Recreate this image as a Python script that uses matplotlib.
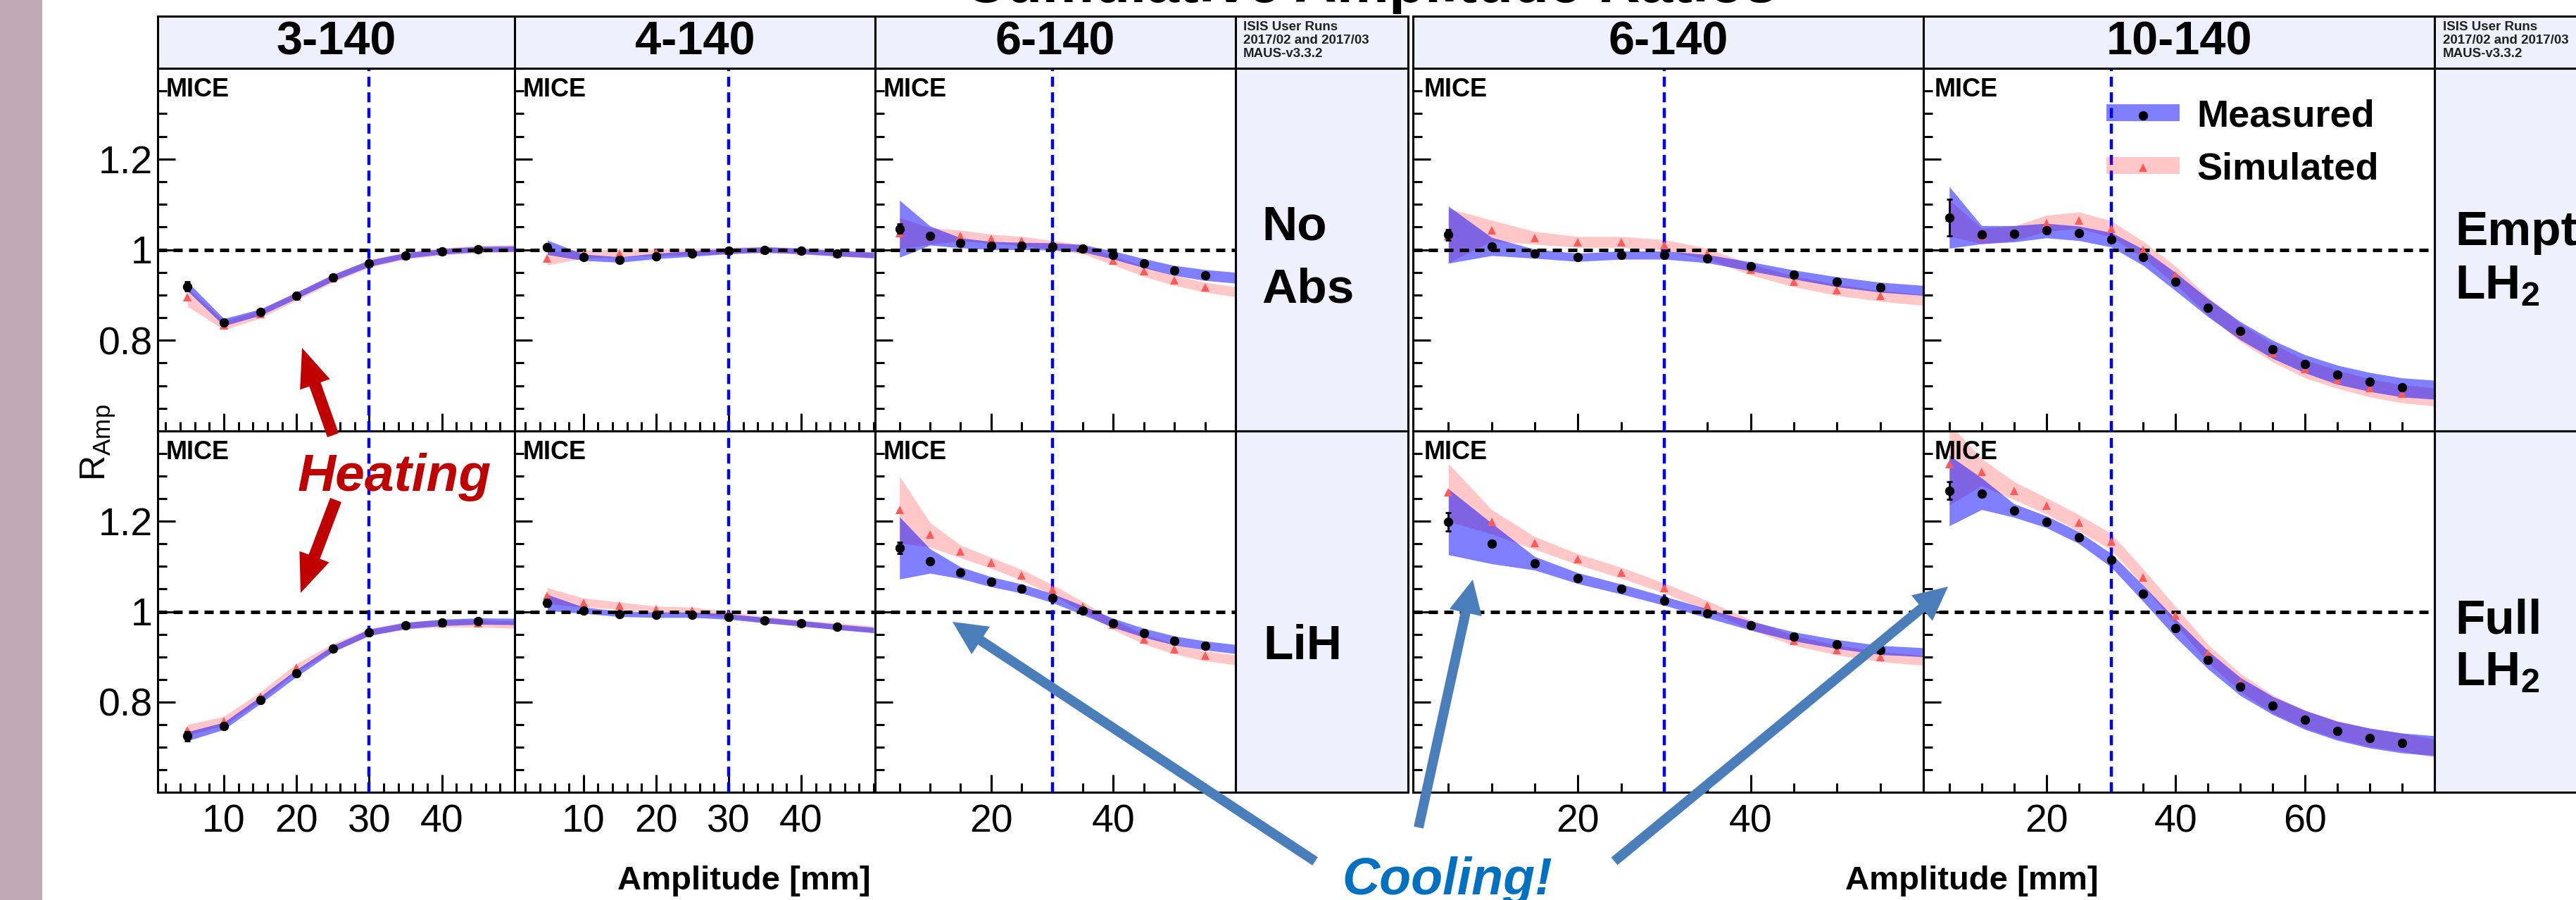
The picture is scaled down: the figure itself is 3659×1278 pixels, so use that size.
import numpy as np
import matplotlib
matplotlib.use('Agg')
import matplotlib.pyplot as plt
import matplotlib.patches as mpatches
from matplotlib.lines import Line2D
from matplotlib.legend_handler import HandlerTuple
from matplotlib.ticker import MultipleLocator, FixedLocator
from matplotlib.transforms import Affine2D

plt.rcParams['font.family'] = ['Liberation Sans', 'DejaVu Sans']
plt.rcParams['mathtext.fontset'] = 'custom'
plt.rcParams['mathtext.rm'] = 'Liberation Sans'
plt.rcParams['mathtext.bf'] = 'Liberation Sans:bold'
plt.rcParams['mathtext.it'] = 'Liberation Sans:italic'

# amplitude bins [mm]; the last band value of each series is the band at the axis end
amp_small = [5, 10, 15, 20, 25, 30, 35, 40, 45]
amp_mid = [5, 10, 15, 20, 25, 30, 35, 40, 45, 50, 55]
amp_large = [5, 10, 15, 20, 25, 30, 35, 40, 45, 50, 55, 60, 65, 70, 75]
end_small, end_mid, end_large = 50, 60, 80

# labelled x ticks
ticks_small = [10, 20, 30, 40]
ticks_mid = [20, 40]
ticks_large = [20, 40, 60]
yticks = [0.8, 1.0, 1.2]
ytick_labels = ['0.8', '1', '1.2']

# 3-140, No Abs
meas_3_noabs = [0.919, 0.840, 0.862, 0.899, 0.938, 0.970, 0.987, 0.996, 1.001, 1.002]
meas_3_noabs_w = [0.010, 0.008, 0.007, 0.007, 0.007, 0.007, 0.006, 0.006, 0.006, 0.006]
sim_3_noabs = [0.895, 0.833, 0.858, 0.897, 0.937, 0.969, 0.987, 0.996, 1.001, 1.003]
sim_3_noabs_w = [0.020, 0.010, 0.009, 0.009, 0.009, 0.008, 0.008, 0.008, 0.008, 0.008]
# 4-140, No Abs
meas_4_noabs = [1.005, 0.983, 0.978, 0.986, 0.991, 0.997, 1.000, 0.997, 0.992, 0.988]
meas_4_noabs_w = [0.016, 0.007, 0.006, 0.006, 0.006, 0.006, 0.006, 0.006, 0.006, 0.006]
sim_4_noabs = [0.981, 0.990, 0.992, 0.994, 0.995, 0.998, 1.000, 0.997, 0.992, 0.988]
sim_4_noabs_w = [0.015, 0.009, 0.008, 0.007, 0.007, 0.007, 0.007, 0.007, 0.007, 0.007]
# 6-140, No Abs
meas_6_noabs = [1.046, 1.031, 1.015, 1.009, 1.008, 1.007, 1.003, 0.988, 0.970, 0.954, 0.944, 0.938]
meas_6_noabs_w = [0.063, 0.021, 0.011, 0.009, 0.008, 0.008, 0.008, 0.009, 0.010, 0.011, 0.012, 0.012]
sim_6_noabs = [1.036, 1.030, 1.031, 1.024, 1.019, 1.010, 1.001, 0.976, 0.952, 0.932, 0.917, 0.907]
sim_6_noabs_w = [0.035, 0.018, 0.012, 0.010, 0.010, 0.010, 0.010, 0.010, 0.011, 0.011, 0.011, 0.011]
# 3-140, LiH
meas_3_lih = [0.724, 0.747, 0.804, 0.864, 0.918, 0.954, 0.969, 0.976, 0.979, 0.978]
meas_3_lih_w = [0.010, 0.008, 0.008, 0.008, 0.007, 0.007, 0.007, 0.007, 0.007, 0.007]
sim_3_lih = [0.738, 0.758, 0.812, 0.876, 0.920, 0.955, 0.969, 0.974, 0.974, 0.971]
sim_3_lih_w = [0.012, 0.010, 0.010, 0.009, 0.009, 0.008, 0.008, 0.008, 0.008, 0.008]
# 4-140, LiH
meas_4_lih = [1.020, 1.003, 0.995, 0.993, 0.993, 0.989, 0.981, 0.974, 0.966, 0.959]
meas_4_lih_w = [0.018, 0.007, 0.006, 0.006, 0.006, 0.006, 0.006, 0.006, 0.006, 0.006]
sim_4_lih = [1.035, 1.020, 1.013, 1.005, 1.003, 0.993, 0.982, 0.974, 0.968, 0.961]
sim_4_lih_w = [0.018, 0.010, 0.008, 0.007, 0.007, 0.007, 0.007, 0.007, 0.007, 0.007]
# 6-140, LiH
meas_6_lih = [1.141, 1.112, 1.086, 1.066, 1.051, 1.030, 1.003, 0.975, 0.953, 0.936, 0.925, 0.917]
meas_6_lih_w = [0.069, 0.027, 0.013, 0.011, 0.010, 0.010, 0.010, 0.010, 0.010, 0.010, 0.010, 0.010]
sim_6_lih = [1.226, 1.170, 1.133, 1.108, 1.081, 1.049, 1.011, 0.971, 0.939, 0.917, 0.902, 0.893]
sim_6_lih_w = [0.074, 0.027, 0.014, 0.012, 0.012, 0.011, 0.011, 0.011, 0.011, 0.011, 0.011, 0.011]
# 6-140, Empty LH2
meas_6_empty = [1.033, 1.007, 0.991, 0.983, 0.988, 0.988, 0.980, 0.963, 0.945, 0.929, 0.917, 0.910]
meas_6_empty_w = [0.063, 0.020, 0.010, 0.009, 0.009, 0.009, 0.009, 0.010, 0.010, 0.011, 0.011, 0.011]
sim_6_empty = [1.031, 1.042, 1.026, 1.017, 1.017, 1.010, 0.991, 0.956, 0.930, 0.911, 0.898, 0.889]
sim_6_empty_w = [0.060, 0.023, 0.014, 0.012, 0.012, 0.012, 0.012, 0.012, 0.012, 0.012, 0.012, 0.012]
# 10-140, Empty LH2
meas_10_empty = [1.071, 1.033, 1.035, 1.042, 1.036, 1.022, 0.983, 0.929, 0.872, 0.821, 0.780, 0.748,
                 0.724, 0.708, 0.696, 0.691]
meas_10_empty_w = [0.068, 0.020, 0.018, 0.016, 0.016, 0.016, 0.018, 0.020, 0.020, 0.020, 0.020, 0.020,
                   0.021, 0.021, 0.021, 0.021]
sim_10_empty = [1.070, 1.030, 1.036, 1.058, 1.065, 1.046, 1.000, 0.943, 0.875, 0.817, 0.772, 0.737,
                0.714, 0.695, 0.682, 0.675]
sim_10_empty_w = [0.040, 0.017, 0.016, 0.018, 0.018, 0.018, 0.018, 0.020, 0.020, 0.020, 0.020, 0.020,
                  0.020, 0.020, 0.020, 0.020]
# 6-140, Full LH2
meas_6_full = [1.199, 1.151, 1.107, 1.074, 1.050, 1.024, 0.996, 0.969, 0.945, 0.928, 0.915, 0.910]
meas_6_full_w = [0.073, 0.045, 0.015, 0.012, 0.011, 0.010, 0.010, 0.010, 0.010, 0.010, 0.010, 0.010]
sim_6_full = [1.264, 1.199, 1.152, 1.116, 1.086, 1.052, 1.013, 0.971, 0.936, 0.915, 0.900, 0.892]
sim_6_full_w = [0.064, 0.027, 0.014, 0.012, 0.012, 0.011, 0.011, 0.011, 0.011, 0.011, 0.011, 0.011]
# 10-140, Full LH2
meas_10_full = [1.268, 1.261, 1.224, 1.199, 1.164, 1.114, 1.040, 0.963, 0.893, 0.834, 0.792, 0.760,
                0.736, 0.720, 0.709, 0.703]
meas_10_full_w = [0.078, 0.035, 0.015, 0.013, 0.013, 0.015, 0.018, 0.020, 0.020, 0.020, 0.020, 0.021,
                  0.021, 0.022, 0.022, 0.022]
sim_10_full = [1.326, 1.309, 1.268, 1.234, 1.197, 1.155, 1.076, 0.991, 0.907, 0.843, 0.795, 0.762,
               0.738, 0.721, 0.711, 0.697]
sim_10_full_w = [0.090, 0.030, 0.020, 0.018, 0.018, 0.018, 0.018, 0.020, 0.020, 0.020, 0.020, 0.020,
                 0.020, 0.020, 0.020, 0.020]

# error on the first measured point of each panel
first_err = [0.010, 0.005, 0.010, 0.010, 0.008, 0.013, 0.012, 0.040, 0.020, 0.020]

W, H = 3659, 1278
fig = plt.figure(figsize=(W / 100, H / 100), dpi=100)
pix = Affine2D().scale(1.0 / W, -1.0 / H).translate(0, 1) + fig.transFigure

LAV = '#f0f0fc'
BLUE_BAND = (0, 0, 1, 0.5)
PINK_BAND = (1, 0, 0, 0.22)
TRI = '#ff5a5a'


def box(x0, y0, x1, y1, fc, lw=2.2):
    fig.add_artist(mpatches.Rectangle((x0, y0), x1 - x0, y1 - y0, transform=pix,
                                      fc=fc, ec='black', lw=lw, zorder=0.5))


def panel(x0, x1, y0, y1):
    return fig.add_axes([x0 / W, 1 - y1 / H, (x1 - x0) / W, (y1 - y0) / H])


def draw(ax, amp, end, meas, meas_w, sim, sim_w, err0, xlim, xticks, minor, bottom, left):
    bx = amp + [end]
    m, mw = np.array(meas), np.array(meas_w)
    s, sw = np.array(sim), np.array(sim_w)
    ax.fill_between(bx, s - sw, s + sw, color=PINK_BAND, lw=0, zorder=1)
    ax.fill_between(bx, m - mw, m + mw, color=BLUE_BAND, lw=0, zorder=2)
    ax.axhline(1.0, color='black', lw=3.6, dashes=(2.6, 1.8), zorder=3)
    ax.axvline(30, color='#0000ff', lw=3.2, dashes=(3.2, 1.8), zorder=3)
    ax.plot(amp, s[:-1], '^', color=TRI, ms=8, mew=0, zorder=4)
    ax.errorbar(amp[0], m[0], yerr=err0, fmt='none', ecolor='black', elinewidth=2,
                capsize=3, capthick=2, zorder=5)
    ax.plot(amp, m[:-1], 'o', color='black', ms=8.6, zorder=6)
    ax.set_xlim(*xlim)
    ax.set_ylim(0.6, 1.4)
    ax.xaxis.set_major_locator(FixedLocator(xticks))
    ax.xaxis.set_minor_locator(MultipleLocator(minor))
    ax.yaxis.set_major_locator(FixedLocator(yticks))
    ax.yaxis.set_minor_locator(MultipleLocator(0.05))
    ax.tick_params(which='both', direction='in', width=2.2, top=False, right=False,
                   labelsize=40, labelbottom=bottom, labelleft=left)
    ax.tick_params(which='major', length=18)
    ax.tick_params(which='minor', length=9.4)
    ax.tick_params(axis='x', pad=12)
    ax.tick_params(axis='y', pad=5)
    if left:
        ax.set_yticklabels(ytick_labels)
    for sp in ax.spines.values():
        sp.set_linewidth(2.2)
    ax.text(0.022, 0.975, 'MICE', transform=ax.transAxes, ha='left', va='top',
            fontsize=26, fontweight='bold', zorder=7)


# background strip and frames
fig.add_artist(mpatches.Rectangle((0, 0), 60, H, transform=pix, fc='#c0a9b2', ec='none', zorder=0))

left_cols = [224, 731, 1243, 1755, 2000]
right_cols = [2007, 2732, 3458, 3700]
top_row, bot_row = (97, 612), (612, 1125)

for cols in (left_cols, right_cols):
    for a, b in zip(cols[:-1], cols[1:]):
        box(a, 23, b, 97, LAV)
    box(cols[-2], 97, cols[-1], 612, LAV)
    box(cols[-2], 612, cols[-1], 1125, LAV)

panels = [
    (left_cols, top_row, amp_small, end_small, meas_3_noabs, meas_3_noabs_w, sim_3_noabs, sim_3_noabs_w, (0.9, 50), ticks_small, 2),
    (left_cols, top_row, amp_small, end_small, meas_4_noabs, meas_4_noabs_w, sim_4_noabs, sim_4_noabs_w, (0.5, 50.2), ticks_small, 2),
    (left_cols, top_row, amp_mid, end_mid, meas_6_noabs, meas_6_noabs_w, sim_6_noabs, sim_6_noabs_w, (1, 60), ticks_mid, 5),
    (left_cols, bot_row, amp_small, end_small, meas_3_lih, meas_3_lih_w, sim_3_lih, sim_3_lih_w, (0.9, 50), ticks_small, 2),
    (left_cols, bot_row, amp_small, end_small, meas_4_lih, meas_4_lih_w, sim_4_lih, sim_4_lih_w, (0.5, 50.2), ticks_small, 2),
    (left_cols, bot_row, amp_mid, end_mid, meas_6_lih, meas_6_lih_w, sim_6_lih, sim_6_lih_w, (1, 60), ticks_mid, 5),
    (right_cols, top_row, amp_mid, end_mid, meas_6_empty, meas_6_empty_w, sim_6_empty, sim_6_empty_w, (0.9, 60), ticks_mid, 5),
    (right_cols, top_row, amp_large, end_large, meas_10_empty, meas_10_empty_w, sim_10_empty, sim_10_empty_w, (1, 80), ticks_large, 5),
    (right_cols, bot_row, amp_mid, end_mid, meas_6_full, meas_6_full_w, sim_6_full, sim_6_full_w, (0.9, 60), ticks_mid, 5),
    (right_cols, bot_row, amp_large, end_large, meas_10_full, meas_10_full_w, sim_10_full, sim_10_full_w, (1, 80), ticks_large, 5),
]
col_index = [0, 1, 2, 0, 1, 2, 0, 1, 0, 1]

axes = []
for k, (cols, row, amp, end, m, mw, s, sw, xlim, xt, minor) in enumerate(panels):
    c = col_index[k]
    ax = panel(cols[c], cols[c + 1], row[0], row[1])
    draw(ax, amp, end, m, mw, s, sw, first_err[k], xlim, xt, minor,
         bottom=(row == bot_row), left=(c == 0 and cols is left_cols))
    axes.append(ax)

# legend in the 10-140 empty panel
ax_leg = axes[7]
h_meas = (mpatches.Patch(fc=BLUE_BAND, ec='none'),
          Line2D([], [], marker='o', color='black', ls='none', ms=8.6))
h_sim = (mpatches.Patch(fc=PINK_BAND, ec='none'),
         Line2D([], [], marker='^', color=TRI, ls='none', ms=8, mew=0))
ax_leg.legend([h_meas, h_sim], ['Measured', 'Simulated'],
              handler_map={tuple: HandlerTuple(ndivide=1)},
              loc='upper left', bbox_to_anchor=(0.358, 0.915), frameon=False,
              prop={'size': 39, 'weight': 'bold'}, handlelength=1.93, handleheight=0.31,
              handletextpad=0.44, labelspacing=0.45, borderpad=0, borderaxespad=0)

# header and label texts
hdr_y = 1 - 60 / H
for cols, names in ((left_cols, ['3-140', '4-140', '6-140']), (right_cols, ['6-140', '10-140'])):
    for a, b, name in zip(cols, cols[1:], names):
        fig.text((a + b) / 2 / W, hdr_y, name, ha='center', va='center', fontsize=48, fontweight='bold')
for x in (1766, 3470):
    fig.text(x / W, 1 - 30 / H, 'ISIS User Runs\n2017/02 and 2017/03\nMAUS-v3.3.2', ha='left', va='top',
             fontsize=13.5, fontweight='bold', color='#222222', linespacing=1.15)

fig.text(1792 / W, 1 - 367 / H, 'No\nAbs', ha='left', va='center', fontsize=50, fontweight='bold',
         linespacing=1.5)
fig.text(1794 / W, 1 - 918 / H, 'LiH', ha='left', va='center', fontsize=50, fontweight='bold')
fig.text(3487 / W, 1 - 368 / H, 'Empty\nLH$_\\mathbf{2}$', ha='left', va='center', fontsize=50,
         fontweight='bold', linespacing=1.25)
fig.text(3487 / W, 1 - 918 / H, 'Full\nLH$_\\mathbf{2}$', ha='left', va='center', fontsize=50,
         fontweight='bold', linespacing=1.2)

fig.text(1947 / W, 1 - 2.5 / H, 'Cumulative Amplitude Ratios', ha='center', va='baseline',
         fontsize=60, fontweight='bold')
fig.text(140 / W, 1 - 628 / H, r'R$_{\mathrm{Amp}}$', rotation=90, ha='center', va='center', fontsize=36)
fig.text(1057 / W, 1 - 1251 / H, 'Amplitude [mm]', ha='center', va='center', fontsize=34, fontweight='bold')
fig.text(2801 / W, 1 - 1251 / H, 'Amplitude [mm]', ha='center', va='center', fontsize=34, fontweight='bold')

# annotations
fig.text(560 / W, 1 - 697 / H, 'Heating', ha='center', va='baseline', fontsize=54,
         fontweight='bold', style='italic', color='#c00000')
fig.text(2056 / W, 1 - 1270 / H, 'Cooling!', ha='center', va='baseline', fontsize=53,
         fontweight='bold', style='italic', color='#0070c0')


def arrow(x0, y0, x1, y1, color, width, head_w, head_l):
    fig.add_artist(mpatches.FancyArrow(x0, y0, x1 - x0, y1 - y0, width=width, head_width=head_w,
                                       head_length=head_l, length_includes_head=True,
                                       transform=pix, color=color, lw=0, zorder=10))


arrow(473, 618, 429, 494, '#c00000', 17, 45, 55)
arrow(477, 710, 427, 842, '#c00000', 17, 45, 55)
arrow(1868, 1223, 1353, 883, '#4a7ebb', 14, 47, 48)
arrow(2015, 1175, 2092, 823, '#4a7ebb', 14, 47, 48)
arrow(2293, 1223, 2767, 833, '#4a7ebb', 14, 47, 48)

fig.savefig('out.png', dpi=100)
